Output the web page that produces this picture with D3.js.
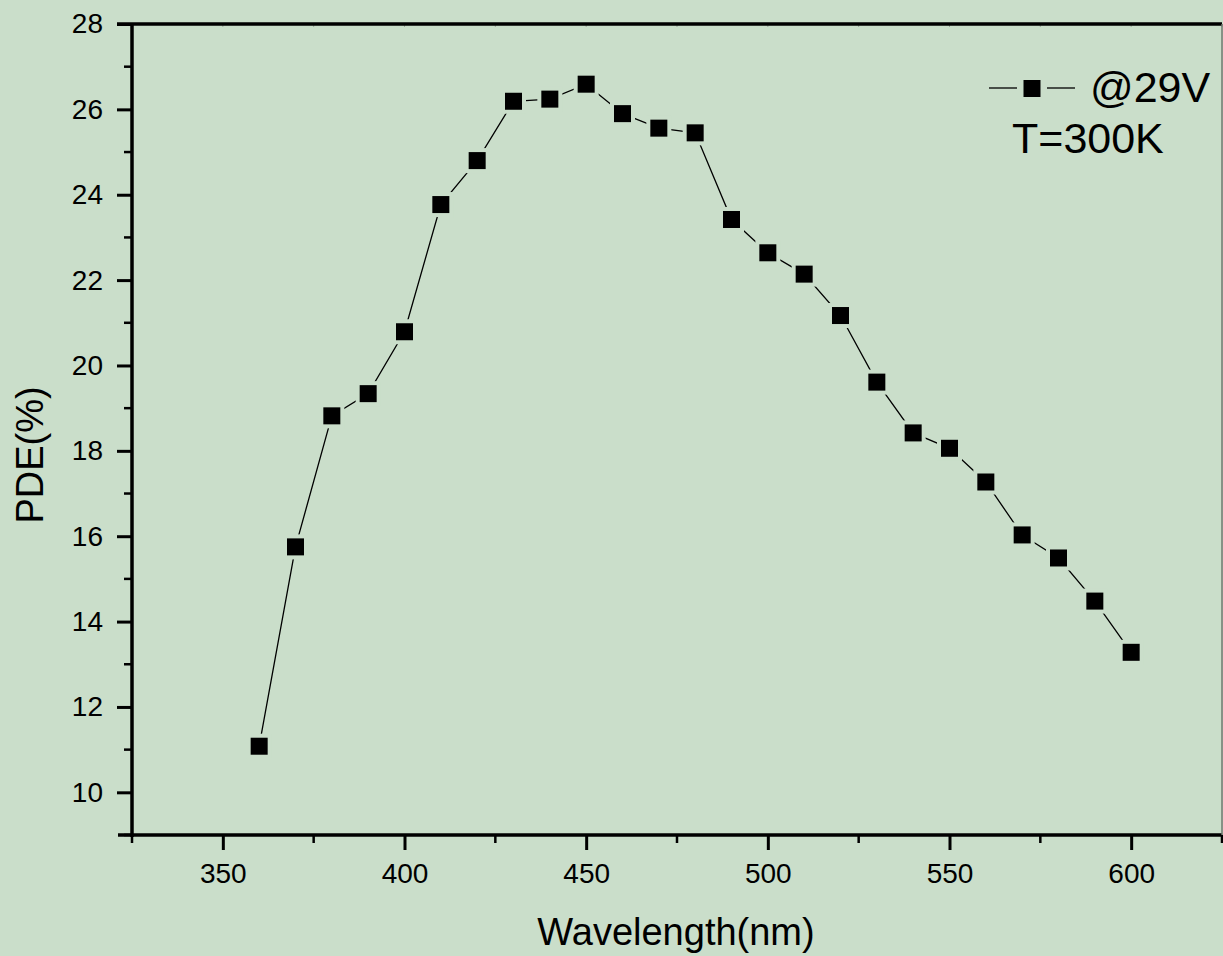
<!DOCTYPE html>
<html>
<head>
<meta charset="utf-8">
<script src="https://cdn.jsdelivr.net/npm/d3@7"></script>
<style>
  body { margin: 0; background: #cadeca; }
  text { font-family: "Liberation Sans", Arial, sans-serif; fill: #000; }
</style>
</head>
<body>
<div id="chart"></div>
<script>
// wavelength (nm) and measured PDE (%)
var wavelengths = [360, 370, 380, 390, 400, 410, 420, 430, 440, 450, 460, 470, 480,
  490, 500, 510, 520, 530, 540, 550, 560, 570, 580, 590, 600];
var pdeValues = [11.08, 15.75, 18.82, 19.34, 20.79, 23.77, 24.8, 26.19, 26.24, 26.59, 25.9, 25.56, 25.45,
  23.42, 22.64, 22.14, 21.17, 19.61, 18.42, 18.06, 17.27, 16.03, 15.49, 14.48, 13.28];
var xTicks = [350, 400, 450, 500, 550, 600];
var yTicks = [10, 12, 14, 16, 18, 20, 22, 24, 26, 28];
var legendLabel = "@29V";
var noteLabel = "T=300K";

var svgWidth = 1223;
var svgHeight = 956;
var margin = { top: 24, right: 1, bottom: 121, left: 132 };
var width = svgWidth - margin.left - margin.right;
var height = svgHeight - margin.top - margin.bottom;
var bg = "#cadeca";

var svg = d3.select("#chart").append("svg")
  .attr("width", svgWidth)
  .attr("height", svgHeight);

svg.append("rect").attr("width", svgWidth).attr("height", svgHeight).attr("fill", bg);

var chartGroup = svg.append("g")
  .attr("transform", `translate(${margin.left}, ${margin.top})`);

var x = d3.scaleLinear().domain([325, 625]).range([0, width]);
var y = d3.scaleLinear().domain([9, 28]).range([height, 0]);

// minor ticks first so major ones draw on top
var xMinor = d3.range(325, 626, 25).filter(v => xTicks.indexOf(v) < 0);
var yMinor = d3.range(9, 28, 2);

chartGroup.append("g")
  .attr("transform", `translate(0, ${height})`)
  .selectAll("line").data(xMinor).enter().append("line")
  .attr("x1", d => x(d)).attr("x2", d => x(d))
  .attr("y1", 0).attr("y2", 8)
  .attr("stroke", "#000").attr("stroke-width", 2.5);

chartGroup.append("g")
  .selectAll("line").data(yMinor).enter().append("line")
  .attr("y1", d => y(d)).attr("y2", d => y(d))
  .attr("x1", 0).attr("x2", -8)
  .attr("stroke", "#000").attr("stroke-width", 2.5);

// small inward ticks on the top border
chartGroup.append("g")
  .selectAll("line").data(d3.range(350, 626, 25)).enter().append("line")
  .attr("x1", d => x(d)).attr("x2", d => x(d))
  .attr("y1", 0).attr("y2", 3)
  .attr("stroke", "#9aa89a").attr("stroke-width", 1);

var bottomAxis = d3.axisBottom(x).tickValues(xTicks).tickSize(15).tickPadding(13).tickSizeOuter(0);
var leftAxis = d3.axisLeft(y).tickValues(yTicks).tickSize(15).tickPadding(14).tickSizeOuter(0);

var xAxis = chartGroup.append("g")
  .attr("transform", `translate(0, ${height})`)
  .call(bottomAxis);
var yAxis = chartGroup.append("g").call(leftAxis);

[xAxis, yAxis].forEach(function(ax) {
  ax.attr("font-family", null).attr("font-size", null);
  ax.select(".domain").attr("stroke-width", 3.5);
  ax.selectAll(".tick line").attr("stroke-width", 3);
  ax.selectAll(".tick text").style("font-size", "28px").attr("fill", "#000");
});
xAxis.select(".domain").attr("d", `M-14,0H${width}`);
yAxis.select(".domain").attr("d", `M0,0V${height + 2}`);

// top border and thin right border
chartGroup.append("line")
  .attr("x1", -15).attr("x2", width).attr("y1", 0).attr("y2", 0)
  .attr("stroke", "#000").attr("stroke-width", 3.5);
chartGroup.append("line")
  .attr("x1", width).attr("x2", width).attr("y1", 0).attr("y2", height)
  .attr("stroke", "#6f786f").attr("stroke-width", 1.5);

// data line + square markers
var points = wavelengths.map((w, i) => ({ w: w, v: pdeValues[i] }));
var line = d3.line().x(d => x(d.w)).y(d => y(d.v));

chartGroup.append("path")
  .datum(points)
  .attr("d", line)
  .attr("fill", "none")
  .attr("stroke", "#000")
  .attr("stroke-width", 1.3);

var size = 17;
chartGroup.selectAll("rect.pt").data(points).enter().append("rect")
  .attr("class", "pt")
  .attr("x", d => x(d.w) - size / 2)
  .attr("y", d => y(d.v) - size / 2)
  .attr("width", size).attr("height", size)
  .attr("fill", "#000")
  .attr("stroke", bg)
  .attr("stroke-width", 8)
  .attr("paint-order", "stroke");

// axis titles
svg.append("text")
  .attr("x", 676)
  .attr("y", 945)
  .attr("text-anchor", "middle")
  .style("font-size", "38px")
  .text("Wavelength(nm)");

svg.append("text")
  .attr("transform", `translate(43, 455) rotate(-90)`)
  .attr("text-anchor", "middle")
  .style("font-size", "38px")
  .text("PDE(%)");

// legend
var legend = svg.append("g");
legend.append("line").attr("x1", 989).attr("x2", 1017).attr("y1", 88).attr("y2", 88)
  .attr("stroke", "#000").attr("stroke-width", 1.3);
legend.append("line").attr("x1", 1047).attr("x2", 1075).attr("y1", 88).attr("y2", 88)
  .attr("stroke", "#000").attr("stroke-width", 1.3);
legend.append("rect").attr("x", 1032 - size / 2).attr("y", 88.5 - size / 2)
  .attr("width", size).attr("height", size).attr("fill", "#000");
legend.append("text").attr("x", 1090).attr("y", 102)
  .style("font-size", "43px").text(legendLabel);
legend.append("text").attr("x", 1012).attr("y", 153)
  .style("font-size", "43px").text(noteLabel);
</script>
</body>
</html>
